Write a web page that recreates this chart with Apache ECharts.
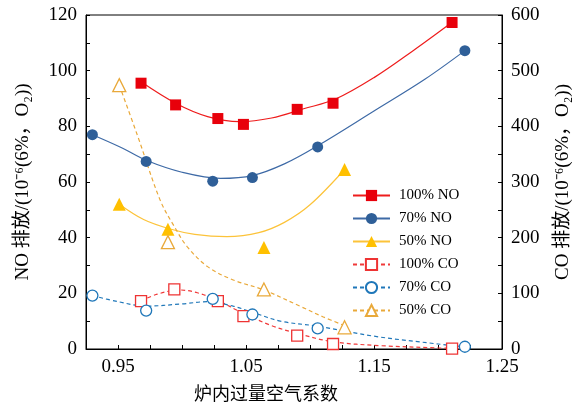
<!DOCTYPE html>
<html>
<head>
<meta charset="utf-8">
<script src="https://cdn.jsdelivr.net/npm/echarts/dist/echarts.min.js"></script>
<style>
html,body{margin:0;padding:0;background:#fff}
#main{width:574px;height:407px}
</style>
</head>
<body>
<div id="main"></div>
<script>
// 测点（过量空气系数, 排放值）
var no100Pts = [[0.968,95.5],[0.995,87.7],[1.028,82.8],[1.048,80.7],[1.090,86.1],[1.118,88.3],[1.211,117.3]];
var no70Pts  = [[0.930,77.0],[0.972,67.4],[1.024,60.3],[1.055,61.6],[1.106,72.6],[1.221,107.2]];
var no50Pts  = [[0.951,52.0],[0.989,43.0],[1.064,36.5],[1.127,64.5]];
var co100Pts = [[0.968,86],[0.994,107],[1.028,86],[1.048,59],[1.090,24],[1.118,9],[1.211,0.5]];
var co70Pts  = [[0.930,96],[0.972,69],[1.024,90],[1.055,62],[1.106,37],[1.221,4]];
var co50Pts  = [[0.951,474],[0.989,192],[1.064,107],[1.127,39]];

// 拟合曲线
var no100Fit = [[0.968,96],[0.995,88.3],[1.02,83.5],[1.045,81.7],[1.07,83],[1.095,86.3],[1.12,89.8],[1.15,97.5],[1.18,107],[1.211,117.4]];
var no70Fit  = [[0.93,77],[0.952,72.5],[0.972,67.8],[1.0,63.5],[1.03,61.3],[1.055,62.3],[1.08,66.5],[1.106,73],[1.15,85.5],[1.19,97],[1.221,107.2]];
var no50Fit  = [[0.951,52],[0.97,46.5],[0.99,43.2],[1.01,41.2],[1.035,40.4],[1.06,41.8],[1.08,45.5],[1.1,51.8],[1.127,64.5]];
var co100Fit = [[0.968,86],[0.98,98],[0.998,106],[1.012,101],[1.028,87],[1.048,64],[1.07,42],[1.09,28],[1.118,13],[1.155,6],[1.2,2],[1.211,1.5]];
var co70Fit  = [[0.93,96],[0.95,85],[0.972,77],[1.0,81],[1.02,85],[1.04,77],[1.055,66],[1.077,50],[1.106,41],[1.15,23],[1.2,9],[1.221,4]];
var co50Fit  = [[0.951,474],[0.965,385],[0.983,267],[0.994,220],[1.004,184],[1.02,148],[1.04,124],[1.064,106],[1.093,76],[1.11,58],[1.127,42]];

var names = ['100% NO','70% NO','50% NO','100% CO','70% CO','50% CO'];

var font = "'Liberation Serif','Noto Sans CJK SC',serif";
var myChart = echarts.init(document.getElementById('main'));

function fit(name, data, color, dashed, axis, symbol, mk){
  return {
    name: name, type: 'line', yAxisIndex: axis, data: data,
    smooth: 0.35, showSymbol: false, symbol: symbol, symbolSize: 11,
    lineStyle: {color: color, width: 1.2, type: dashed ? [4,3] : 'solid'},
    itemStyle: {color: mk},
    z: 2, silent: true
  };
}
function pts(name, data, color, symbol, axis, empty){
  return {
    name: name + ' 点', type: 'scatter', yAxisIndex: axis, data: data,
    symbol: symbol, symbolSize: symbol == 'triangle' ? 13 : 11,
    itemStyle: empty ? {color: '#fff', borderColor: color, borderWidth: 1.3, opacity: 1} : {color: color, opacity: 1},
    z: 5
  };
}

var option = {
  animation: false,
  grid: {left: 86, right: 72, top: 15, bottom: 58, show: true, borderColor: '#000', borderWidth: 1,
    containLabel: false, outerBoundsMode: 'none'},
  legend: {
    data: names, orient: 'vertical', left: 352, top: 188, padding: 0,
    itemWidth: 37, itemHeight: 14, itemGap: 8,
    textStyle: {fontFamily: font, fontSize: 15, color: '#000', padding: [0,0,0,4]}
  },
  xAxis: {
    type: 'value', min: 0.925, max: 1.25, interval: 0.025,
    name: '炉内过量空气系数', nameLocation: 'middle', nameGap: 37,
    nameTextStyle: {fontFamily: font, fontSize: 18, color: '#000', padding: [0,56,0,0]},
    axisLine: {lineStyle: {color: '#000'}},
    axisTick: {inside: true, length: 4, lineStyle: {color: '#000'}},
    axisLabel: {interval: 0, margin: 9, fontFamily: font, fontSize: 19, color: '#000',
      formatter: function(v){ var r = Math.round(v*1000); return r % 100 === 50 ? (r/1000).toFixed(2) : ''; }},
    splitLine: {show: false}
  },
  yAxis: [{
    type: 'value', min: 0, max: 120, interval: 10,
    name: 'NO 排放/(10⁻⁶(6%，O₂))', nameLocation: 'middle', nameGap: 53, nameRotate: 90,
    nameTextStyle: {fontFamily: font, fontSize: 19, color: '#000'},
    axisLine: {show: true, lineStyle: {color: '#000'}},
    axisTick: {inside: true, length: 4, lineStyle: {color: '#000'}},
    axisLabel: {margin: 9, fontFamily: font, fontSize: 19, color: '#000',
      formatter: function(v){ return v % 20 === 0 ? v : ''; }},
    splitLine: {show: false}
  },{
    type: 'value', min: 0, max: 600, interval: 50, position: 'right',
    name: 'CO 排放/(10⁻⁶(6%，O₂))', nameLocation: 'middle', nameGap: 52, nameRotate: 90,
    nameTextStyle: {fontFamily: font, fontSize: 19, color: '#000'},
    axisLine: {show: true, lineStyle: {color: '#000'}},
    axisTick: {inside: true, length: 4, lineStyle: {color: '#000'}},
    axisLabel: {margin: 9, fontFamily: font, fontSize: 19, color: '#000',
      formatter: function(v){ return v % 100 === 0 ? v : ''; }},
    splitLine: {show: false}
  }],
  series: [
    fit(names[0], no100Fit, '#ee1c1c', false, 0, 'rect', '#e8000b'),
    fit(names[1], no70Fit, '#3e6aa6', false, 0, 'circle', '#2f5f98'),
    fit(names[2], no50Fit, '#fcc33a', false, 0, 'triangle', '#ffc000'),
    fit(names[3], co100Fit, '#f03a3a', true, 1, 'emptyRect', '#ee3333'),
    fit(names[4], co70Fit, '#1f77b9', true, 1, 'emptyCircle', '#1f77b9'),
    fit(names[5], co50Fit, '#e9a93a', true, 1, 'emptyTriangle', '#e9a93a'),
    pts(names[0], no100Pts, '#e8000b', 'rect', 0, false),
    pts(names[1], no70Pts, '#2f5f98', 'circle', 0, false),
    pts(names[2], no50Pts, '#ffc000', 'triangle', 0, false),
    pts(names[3], co100Pts, '#ee3333', 'rect', 1, true),
    pts(names[4], co70Pts, '#1f77b9', 'circle', 1, true),
    pts(names[5], co50Pts, '#e9a93a', 'triangle', 1, true)
  ]
};
myChart.setOption(option);
</script>
</body>
</html>
